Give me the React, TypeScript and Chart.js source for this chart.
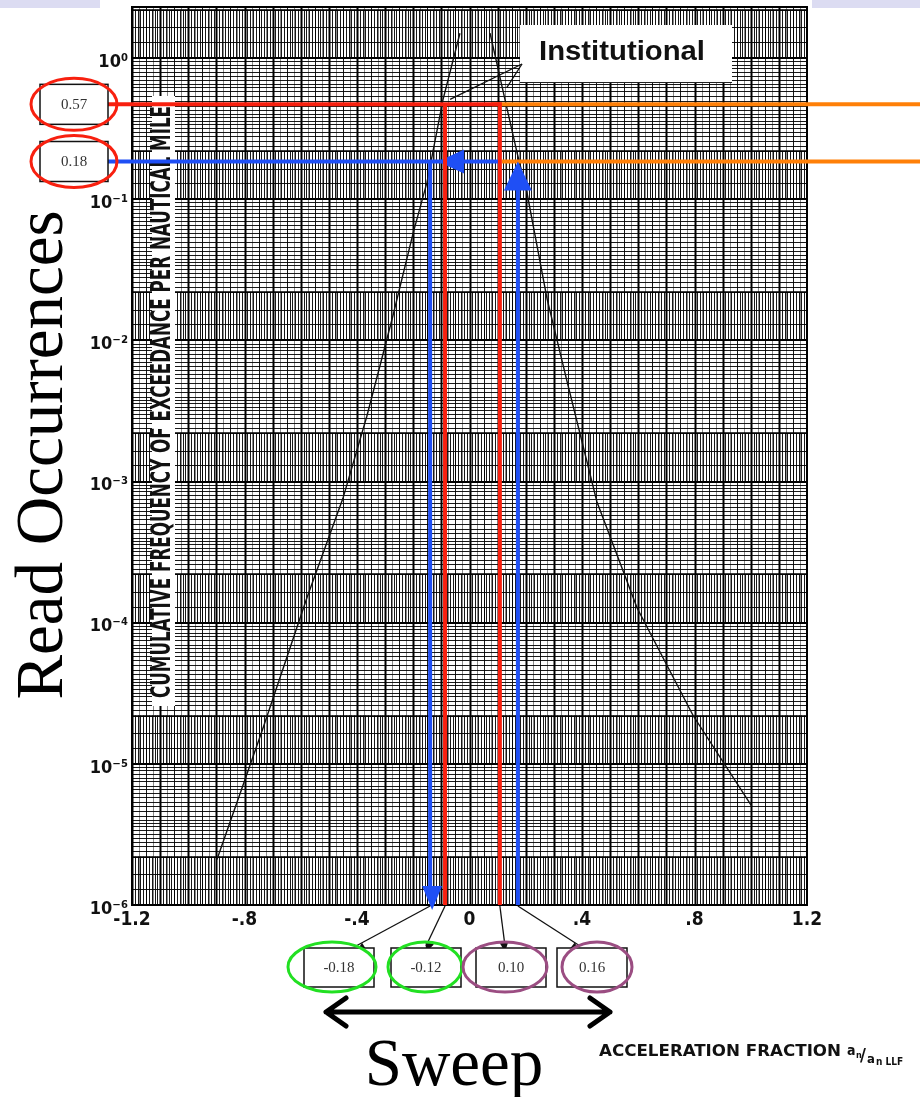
import React, { useEffect, useRef } from "react";
import { Chart, registerables } from "chart.js";

Chart.register(...registerables);

const W = 920;
const H = 1097;

// ---- axes ----
const xMin = -1.2;
const xMax = 1.2;
const xTickValues = [-1.2, -0.8, -0.4, 0, 0.4, 0.8, 1.2];
const xTickLabels = ["-1.2", "-.8", "-.4", "0", ".4", ".8", "1.2"];
const yMin = 1e-6;
const yMax = 2.3;
const yTickValues = [1e-6, 1e-5, 1e-4, 1e-3, 1e-2, 1e-1, 1];
const yTickLabels = ["10⁻⁶", "10⁻⁵", "10⁻⁴", "10⁻³", "10⁻²", "10⁻¹", "10⁰"];

// ---- curves (cumulative frequency of exceedance) ----
const negX = [-0.898, -0.738, -0.578, -0.45, -0.365, -0.272, -0.2, -0.151, -0.094, -0.034];
const negY = [2.1e-6, 1.7e-5, 1.5e-4, 7.6e-4, 2.9e-3, 0.015, 0.058, 0.132, 0.51, 1.5];
const posX = [0.073, 0.126, 0.169, 0.204, 0.276, 0.347, 0.453, 0.596, 0.795, 1.004];
const posY = [1.5, 0.51, 0.214, 0.112, 0.0196, 5.1e-3, 7.2e-4, 1.27e-4, 2.2e-5, 5.0e-6];

// ---- reading annotations ----
const readLevels = [0.47, 0.185]; // red, blue
const readLabels = ["0.57", "0.18"];
const redSweepX = [-0.087, 0.108];
const blueSweepX = [-0.14, 0.172];
const sweepLabels = ["-0.18", "-0.12", "0.10", "0.16"];
const instTargetX = [-0.069, 0.133];
const instTargetY = [0.51, 0.62];

// grid paper structure (mantissas within each decade)
const bandMantissas = [1, 1.3, 1.65, 2.2];
const denseMantissas = [2.4, 2.6, 2.8, 3, 3.2, 3.4, 3.6, 3.8, 4, 4.3, 4.6, 5, 5.4, 5.8, 6.2, 6.6, 7, 7.5, 8, 8.5, 9, 9.5];

const RED = "#f8200f";
const BLUE = "#1f4ff5";
const ORANGE = "#ff8008";
const GREEN = "#22e022";
const PURPLE = "#9b4d82";
const COND = "'DejaVu Sans Condensed', 'DejaVu Sans', sans-serif";
const SERIF = "'Liberation Serif', 'DejaVu Serif', serif";

function arrowHead(ctx: CanvasRenderingContext2D, tx: number, ty: number, ang: number, len: number, hw: number, color: string) {
  ctx.save();
  ctx.translate(tx, ty);
  ctx.rotate(ang);
  ctx.beginPath();
  ctx.moveTo(0, 0);
  ctx.lineTo(-len, -hw);
  ctx.lineTo(-len, hw);
  ctx.closePath();
  ctx.fillStyle = color;
  ctx.fill();
  ctx.restore();
}

function line(ctx: CanvasRenderingContext2D, x1: number, y1: number, x2: number, y2: number, color: string, w: number) {
  ctx.save();
  ctx.strokeStyle = color;
  ctx.lineWidth = w;
  ctx.beginPath();
  ctx.moveTo(x1, y1);
  ctx.lineTo(x2, y2);
  ctx.stroke();
  ctx.restore();
}

function fitText(ctx: CanvasRenderingContext2D, text: string, cx: number, cy: number, width: number, font: string, color: string) {
  ctx.save();
  ctx.font = font;
  const w = ctx.measureText(text).width;
  ctx.translate(cx, cy);
  ctx.scale(width / w, 1);
  ctx.fillStyle = color;
  ctx.textAlign = "center";
  ctx.textBaseline = "middle";
  ctx.fillText(text, 0, 0);
  ctx.restore();
}

const paperPlugin = {
  id: "paper",
  beforeDraw(chart: any) {
    const ctx = chart.ctx as CanvasRenderingContext2D;
    ctx.save();
    ctx.fillStyle = "#ffffff";
    ctx.fillRect(0, 0, W, H);
    ctx.fillStyle = "#dcdcf2";
    ctx.fillRect(0, 0, 100, 8);
    ctx.fillRect(812, 0, 108, 8);
    ctx.restore();
  },
  beforeDatasetsDraw(chart: any) {
    const ctx = chart.ctx as CanvasRenderingContext2D;
    const a = chart.chartArea;
    const xs = chart.scales.x;
    const ys = chart.scales.y;
    ctx.save();
    ctx.beginPath();
    ctx.rect(a.left, a.top, a.right - a.left, a.bottom - a.top);
    ctx.clip();
    // faint verticals across the whole paper
    ctx.beginPath();
    ctx.strokeStyle = "rgba(0,0,0,0.45)";
    ctx.lineWidth = 1;
    for (let k = 0; k <= 96; k++) {
      const px = Math.round(xs.getPixelForValue(xMin + k * 0.025)) + 0.5;
      ctx.moveTo(px, a.top);
      ctx.lineTo(px, a.bottom);
    }
    ctx.stroke();
    // hatch bands
    ctx.strokeStyle = "rgba(0,0,0,0.9)";
    ctx.lineWidth = 1;
    for (let d = -6; d <= 0; d++) {
      const yb = ys.getPixelForValue(Math.pow(10, d));
      const yt = ys.getPixelForValue(2.2 * Math.pow(10, d));
      ctx.beginPath();
      for (let k = 0; k <= 240; k++) {
        const px = Math.round(xs.getPixelForValue(xMin + k * 0.01)) + 0.5;
        ctx.moveTo(px, yt);
        ctx.lineTo(px, yb);
      }
      ctx.stroke();
    }
    // horizontal lines
    for (let d = -6; d <= 0; d++) {
      const base = Math.pow(10, d);
      ctx.beginPath();
      ctx.strokeStyle = "rgba(0,0,0,0.9)";
      ctx.lineWidth = 1;
      [...bandMantissas.slice(1), ...denseMantissas].forEach((m) => {
        const py = Math.round(ys.getPixelForValue(m * base)) + 0.5;
        ctx.moveTo(a.left, py);
        ctx.lineTo(a.right, py);
      });
      ctx.stroke();
      const pd = Math.round(ys.getPixelForValue(base));
      line(ctx, a.left, pd, a.right, pd, "#000", 2.2);
      const p2 = Math.round(ys.getPixelForValue(2.2 * base));
      line(ctx, a.left, p2, a.right, p2, "#000", 1.6);
    }
    // vertical lines
    for (let k = 0; k <= 48; k++) {
      const v = xMin + k * 0.05;
      const px = Math.round(xs.getPixelForValue(v)) + 0.5;
      if (k % 2 === 0) line(ctx, px, a.top, px, a.bottom, "#000", 2);
      else line(ctx, px, a.top, px, a.bottom, "rgba(0,0,0,0.8)", 1);
    }
    ctx.restore();
    // border
    ctx.save();
    ctx.strokeStyle = "#000";
    ctx.lineWidth = 2;
    ctx.strokeRect(a.left, a.top, a.right - a.left, a.bottom - a.top);
    ctx.restore();

    // inner axis title
    ctx.save();
    ctx.fillStyle = "#fff";
    ctx.fillRect(152, 96, 23, 610);
    ctx.restore();
    ctx.save();
    ctx.translate(163.5, 402);
    ctx.rotate(-Math.PI / 2);
    fitText(ctx, "CUMULATIVE FREQUENCY OF EXCEEDANCE PER NAUTICAL MILE", 0, 0, 592, `bold 26px ${COND}`, "#111");
    ctx.restore();

    // Institutional label
    ctx.save();
    ctx.fillStyle = "#fff";
    ctx.fillRect(520, 25, 212, 57);
    ctx.strokeStyle = "#222";
    ctx.lineWidth = 1;
    ctx.beginPath();
    ctx.moveTo(520, 82.5);
    ctx.lineTo(732, 82.5);
    ctx.stroke();
    ctx.restore();
    fitText(ctx, "Institutional", 622, 52, 166, `bold 28px 'Liberation Sans', Arial, sans-serif`, "#111");
  },
  afterDatasetsDraw(chart: any) {
    const ctx = chart.ctx as CanvasRenderingContext2D;
    const xs = chart.scales.x;
    const ys = chart.scales.y;

    // Institutional pointers
    instTargetX.forEach((tx, i) => {
      line(ctx, 522, 64, xs.getPixelForValue(tx), ys.getPixelForValue(instTargetY[i]), "#111", 1.3);
    });

    const yRed = ys.getPixelForValue(readLevels[0]);
    const yBlue = ys.getPixelForValue(readLevels[1]);
    const xRedL = xs.getPixelForValue(redSweepX[0]);
    const xRedR = xs.getPixelForValue(redSweepX[1]);
    const xBlueL = xs.getPixelForValue(blueSweepX[0]);
    const xBlueR = xs.getPixelForValue(blueSweepX[1]);
    const yBot = ys.getPixelForValue(yMin);

    // orange continuation lines
    line(ctx, xRedR - 8, yRed, W, yRed, ORANGE, 4);
    line(ctx, xRedR + 2, yBlue, W, yBlue, ORANGE, 4);

    // blue read lines
    line(ctx, 108, yBlue, xRedR, yBlue, BLUE, 4);
    line(ctx, xBlueL, yBlue, xBlueL, yBot - 18, BLUE, 4);
    arrowHead(ctx, xBlueL + 2, yBot + 5, Math.PI / 2, 24, 10, BLUE);
    line(ctx, xBlueR, yBot, xBlueR, yBlue + 26, BLUE, 4);
    arrowHead(ctx, xBlueR, yBlue, -Math.PI / 2, 29, 14, BLUE);
    arrowHead(ctx, xRedL - 7, yBlue, Math.PI, 26, 12, BLUE);

    // red read lines
    line(ctx, 108, yRed, xRedR, yRed, RED, 4);
    line(ctx, xRedL, yRed, xRedL, yBot, RED, 4);
    line(ctx, xRedR, yRed - 2, xRedR, yBot, RED, 4);

    // left value boxes
    readLabels.forEach((lab, i) => {
      const cy = i === 0 ? yRed : yBlue;
      ctx.save();
      ctx.fillStyle = "#fff";
      ctx.fillRect(40, cy - 20, 68, 40);
      ctx.strokeStyle = "#111";
      ctx.lineWidth = 1.5;
      ctx.strokeRect(40, cy - 20, 68, 40);
      ctx.fillStyle = "#333";
      ctx.font = `15px ${SERIF}`;
      ctx.textAlign = "center";
      ctx.textBaseline = "middle";
      ctx.fillText(lab, 74, cy + 1);
      ctx.strokeStyle = RED;
      ctx.lineWidth = 3;
      ctx.beginPath();
      ctx.ellipse(74, cy, 43, 26, 0, 0, Math.PI * 2);
      ctx.stroke();
      ctx.restore();
    });

    // bottom pointers and boxes
    const fromX = [xBlueL, xRedL, xRedR, xBlueR];
    const toX = [356, 426, 505, 580];
    const boxL = [304, 391, 476, 557];
    const ellC = [332, 425, 505, 597];
    const ellR = [44, 37, 42, 35];
    fromX.forEach((fx, i) => {
      const tx = toX[i];
      const ty = 952;
      line(ctx, fx, yBot + 1, tx, ty - 6, "#111", 1.3);
      const ang = Math.atan2(ty - yBot, tx - fx);
      arrowHead(ctx, tx, ty, ang, 10, 4.5, "#111");
      ctx.save();
      ctx.fillStyle = "#fff";
      ctx.fillRect(boxL[i], 948, 70, 39);
      ctx.strokeStyle = "#111";
      ctx.lineWidth = 1.5;
      ctx.strokeRect(boxL[i], 948, 70, 39);
      ctx.fillStyle = "#333";
      ctx.font = `15px ${SERIF}`;
      ctx.textAlign = "center";
      ctx.textBaseline = "middle";
      ctx.fillText(sweepLabels[i], boxL[i] + 35, 968);
      ctx.strokeStyle = i < 2 ? GREEN : PURPLE;
      ctx.lineWidth = 3;
      ctx.beginPath();
      ctx.ellipse(ellC[i], 967, ellR[i], 25, 0, 0, Math.PI * 2);
      ctx.stroke();
      ctx.restore();
    });

    // sweep double arrow
    ctx.save();
    ctx.strokeStyle = "#000";
    ctx.lineWidth = 5;
    ctx.lineCap = "round";
    ctx.lineJoin = "round";
    ctx.beginPath();
    ctx.moveTo(326, 1012);
    ctx.lineTo(610, 1012);
    ctx.moveTo(346, 998);
    ctx.lineTo(326, 1012);
    ctx.lineTo(346, 1026);
    ctx.moveTo(590, 998);
    ctx.lineTo(610, 1012);
    ctx.lineTo(590, 1026);
    ctx.stroke();
    ctx.restore();

    // big texts
    ctx.save();
    ctx.fillStyle = "#000";
    ctx.font = `67px ${SERIF}`;
    ctx.textAlign = "center";
    ctx.textBaseline = "alphabetic";
    ctx.fillText("Sweep", 454, 1085);
    ctx.translate(62, 455);
    ctx.rotate(-Math.PI / 2);
    ctx.fillText("Read Occurrences", 0, 0);
    ctx.restore();

    // x-axis title
    fitText(ctx, "ACCELERATION FRACTION", 720, 1052, 242, `bold 16px ${COND}`, "#111");
    ctx.save();
    ctx.fillStyle = "#111";
    ctx.font = `bold 14px ${COND}`;
    ctx.textBaseline = "alphabetic";
    ctx.fillText("a", 847, 1055);
    ctx.font = `bold 9px ${COND}`;
    ctx.fillText("n", 856, 1058);
    ctx.font = `bold 18px ${COND}`;
    ctx.fillText("/", 860, 1061);
    ctx.font = `bold 13px ${COND}`;
    ctx.fillText("a", 867, 1063);
    ctx.font = `bold 10px ${COND}`;
    ctx.fillText("n LLF", 876, 1065);
    ctx.restore();
  },
};

export default function App() {
  const ref = useRef<HTMLCanvasElement>(null);
  useEffect(() => {
    const canvas = ref.current;
    if (!canvas) return;
    const chart = new Chart(canvas, {
      type: "scatter",
      data: {
        datasets: [
          {
            data: negX.map((x, i) => ({ x, y: negY[i] })),
            showLine: true,
            borderColor: "#111",
            borderWidth: 1.4,
            pointRadius: 0,
            tension: 0,
          },
          {
            data: posX.map((x, i) => ({ x, y: posY[i] })),
            showLine: true,
            borderColor: "#111",
            borderWidth: 1.4,
            pointRadius: 0,
            tension: 0,
          },
        ],
      },
      options: {
        responsive: false,
        animation: false,
        devicePixelRatio: 1,
        layout: { padding: { left: 0, top: 7, right: 113, bottom: 0 } },
        plugins: { legend: { display: false }, tooltip: { enabled: false } },
        scales: {
          x: {
            type: "linear",
            min: xMin,
            max: xMax,
            grid: { display: false, drawTicks: false },
            border: { display: false },
            afterFit: (s: any) => {
              s.height = 192;
              s.paddingLeft = 0;
              s.paddingRight = 0;
            },
            afterBuildTicks: (s: any) => {
              s.ticks = xTickValues.map((v) => ({ value: v }));
            },
            ticks: {
              padding: 4,
              color: "#111",
              maxRotation: 0,
              autoSkip: false,
              font: { family: "DejaVu Sans Condensed", weight: "bold", size: 19 },
              callback: (_v: any, i: number) => xTickLabels[i],
            },
          },
          y: {
            type: "logarithmic",
            min: yMin,
            max: yMax,
            grid: { display: false, drawTicks: false },
            border: { display: false },
            afterFit: (s: any) => {
              s.width = 132;
              s.paddingTop = 0;
              s.paddingBottom = 0;
            },
            afterBuildTicks: (s: any) => {
              s.ticks = yTickValues.map((v) => ({ value: v }));
            },
            ticks: {
              padding: 4,
              labelOffset: 4,
              color: "#111",
              autoSkip: false,
              font: { family: "DejaVu Sans Condensed", weight: "bold", size: 18 },
              callback: (_v: any, i: number) => yTickLabels[i],
            },
          },
        },
      } as any,
      plugins: [paperPlugin],
    });
    return () => chart.destroy();
  }, []);
  return (
    <div style={{ position: "fixed", left: 0, top: 0, width: W, height: H, background: "#fff" }}>
      <canvas ref={ref} width={W} height={H} style={{ display: "block", width: W, height: H }} />
    </div>
  );
}
